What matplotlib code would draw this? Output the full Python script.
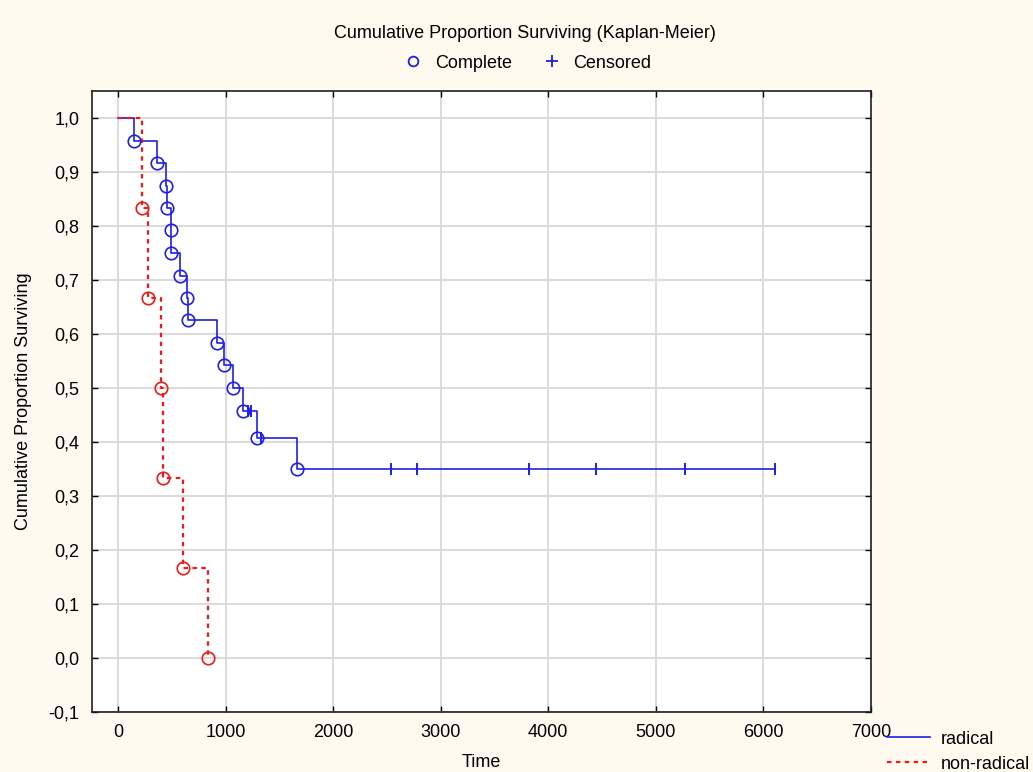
import matplotlib.pyplot as plt
from matplotlib.lines import Line2D
from matplotlib.ticker import FuncFormatter


# Data

# radical group: event times and survival after each event
rad_event_t = [142, 359, 446, 452, 486, 493, 570, 638, 644, 922, 988, 1066, 1159, 1292, 1661]
rad_event_s = [0.958, 0.917, 0.875, 0.833, 0.792, 0.750, 0.708, 0.667, 0.625, 0.583,
               0.542, 0.500, 0.458, 0.407, 0.349]
rad_cens_t = [1205, 1233, 1326, 2534, 2776, 3820, 4442, 5270, 6106]
rad_cens_s = [0.458, 0.458, 0.407, 0.349, 0.349, 0.349, 0.349, 0.349, 0.349]

# non-radical group
non_event_t = [220, 272, 400, 418, 604, 832]
non_event_s = [0.833, 0.667, 0.500, 0.333, 0.167, 0.0]

x_ticks = [0, 1000, 2000, 3000, 4000, 5000, 6000, 7000]
y_ticks = [-0.1, 0.0, 0.1, 0.2, 0.3, 0.4, 0.5, 0.6, 0.7, 0.8, 0.9, 1.0]


# Setup

plt.rcParams.update({
    "font.family": "Liberation Sans",
    "font.size": 13,
})

bg = "#fffaf0"
blue = "#1f1fe6"
red = "#f01818"

fig = plt.figure(figsize=(10.33, 7.72), dpi=100, facecolor=bg)
ax = fig.add_axes([0.089, 0.078, 0.754, 0.804])
ax.set_facecolor("white")

# step curves
rad_x = [0] + rad_event_t + [rad_cens_t[-1]]
rad_y = [1.0] + rad_event_s + [rad_event_s[-1]]
ax.step(rad_x, rad_y, where="post", color=blue, linewidth=1.2, zorder=3)

non_x = [0] + non_event_t
non_y = [1.0] + non_event_s
ax.step(non_x, non_y, where="post", color=red, linewidth=1.6,
        linestyle=(0, (2, 2)), zorder=3)

# complete (event) markers
ax.plot(rad_event_t, rad_event_s, "o", mfc="none", mec=blue, mew=1.2,
        markersize=9, zorder=4)
ax.plot(non_event_t, non_event_s, "o", mfc="none", mec=red, mew=1.2,
        markersize=9, zorder=4)

# censored markers
ax.plot(rad_cens_t, rad_cens_s, "|", color=blue, mew=1.4, markersize=9, zorder=4)

# Axes styling

ax.set_xlim(-245, 7000)
ax.set_ylim(-0.1, 1.05)
ax.set_xticks(x_ticks)
ax.set_yticks(y_ticks)
ax.yaxis.set_major_formatter(FuncFormatter(lambda v, p: f"{v:.1f}".replace(".", ",")))

ax.grid(True, color="#d8d8d8", linewidth=1.3, zorder=0)
ax.set_axisbelow(True)

ax.tick_params(direction="in", length=4, width=1, top=True, right=True,
               labelsize=13, pad=9)
for spine in ax.spines.values():
    spine.set_color("#202020")
    spine.set_linewidth(1.2)

ax.set_xlabel("Time", fontsize=13, labelpad=9)
ax.set_ylabel("Cumulative Proportion Surviving", fontsize=13, labelpad=12)

# Title and legends

fig.text(0.508, 0.957, "Cumulative Proportion Surviving (Kaplan-Meier)",
         ha="center", va="center", fontsize=13)

top_handles = [
    Line2D([], [], linestyle="none", marker="o", mfc="none", mec=blue,
           mew=1.3, markersize=7),
    Line2D([], [], linestyle="none", marker="+", color=blue, mew=1.3,
           markersize=9),
]
fig.legend(top_handles, ["Complete", "Censored"], loc="center",
           bbox_to_anchor=(0.51, 0.918), ncol=2, frameon=False,
           fontsize=13, handlelength=1.2, handletextpad=0.6, columnspacing=1.6)

bottom_handles = [
    Line2D([], [], color=blue, linewidth=1.2),
    Line2D([], [], color=red, linewidth=1.6, linestyle=(0, (2, 2))),
]
fig.legend(bottom_handles, ["radical", "non-radical"], loc="lower right",
           bbox_to_anchor=(1.013, -0.022), frameon=False, fontsize=13,
           handlelength=2.4, handletextpad=0.6, labelspacing=0.45)

fig.savefig("out.png", dpi=100, facecolor=bg)
